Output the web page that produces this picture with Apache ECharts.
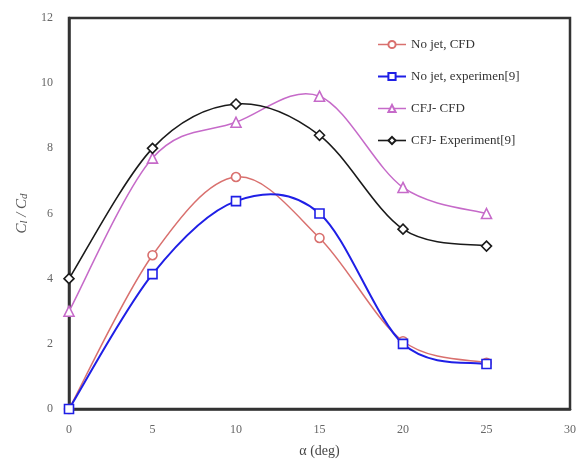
<!DOCTYPE html>
<html>
<head>
<meta charset="utf-8">
<script src="https://cdn.jsdelivr.net/npm/echarts@6/dist/echarts.min.js"></script>
<style>html,body{margin:0;padding:0;background:#fff;}#c{width:579px;height:459px;}</style>
</head>
<body>
<div id="c"></div>
<script>
var alpha = [0, 5, 10, 15, 20, 25];
var noJetCFD = [0, 4.72, 7.12, 5.25, 2.08, 1.42];
var noJetExp = [0, 4.14, 6.38, 6.0, 2.0, 1.38];
var cfjCFD = [3.0, 7.7, 8.8, 9.6, 6.8, 6.0];
var cfjExp = [4.0, 8.0, 9.36, 8.4, 5.52, 5.0];
var xTicks = [0, 5, 10, 15, 20, 25, 30];
var yTicks = [0, 2, 4, 6, 8, 10, 12];
var names = ['No jet, CFD', 'No jet, experimen[9]', 'CFJ- CFD', 'CFJ- Experiment[9]'];

function pairs(ys){ return alpha.map(function(a,i){ return [a, ys[i]]; }); }
var serif = '"Liberation Serif", "DejaVu Serif", serif';

// Excel-like smoothed curve (Catmull-Rom as cubic Bezier) drawn via the axis scales
function curve(name, ys, color, width){
  return {
    name: name, type: 'custom', z: 1, silent: true,
    data: [0],
    renderItem: function(params, api){
      var p = alpha.map(function(a,i){ return api.coord([a, ys[i]]); });
      var path = 'M' + p[0][0] + ' ' + p[0][1];
      for (var i = 0; i < p.length - 1; i++){
        var p0 = p[i > 0 ? i - 1 : i], p1 = p[i], p2 = p[i + 1], p3 = p[i + 2 < p.length ? i + 2 : i + 1];
        var c1 = [p1[0] + (p2[0] - p0[0]) / 6, p1[1] + (p2[1] - p0[1]) / 6];
        var c2 = [p2[0] - (p3[0] - p1[0]) / 6, p2[1] - (p3[1] - p1[1]) / 6];
        path += ' C' + c1[0] + ' ' + c1[1] + ' ' + c2[0] + ' ' + c2[1] + ' ' + p2[0] + ' ' + p2[1];
      }
      return {type: 'path', shape: {pathData: path}, style: {fill: null, stroke: color, lineWidth: width}};
    }
  };
}

function marks(name, ys, color, symbol, size){
  return {
    name: name, type: 'line', data: pairs(ys), z: 3,
    symbol: symbol, symbolSize: size, showSymbol: true,
    lineStyle: {color: color, width: 0, opacity: 0},
    itemStyle: {color: '#fff', borderColor: color, borderWidth: 1.6},
    color: color
  };
}

var colors = ['#d9706e', '#1f1fe6', '#c66ac9', '#1a1a1a'];
var widths = [1.5, 2, 1.5, 1.6];

var chart = echarts.init(document.getElementById('c'));
chart.setOption({
  animation: false,
  backgroundColor: '#fff',
  grid: {left: 69, right: 9, top: 18, bottom: 50, outerBoundsMode: 'none', containLabel: false,
    show: true, borderColor: '#333', borderWidth: 2.5, backgroundColor: 'transparent'},
  legend: {
    orient: 'vertical', left: 372, top: 33, itemGap: 19,
    itemWidth: 28, itemHeight: 9,
    textStyle: {fontFamily: serif, fontSize: 13, color: '#333'},
    data: names.map(function(n, i){
      return {name: n, lineStyle: {color: colors[i], width: widths[i], opacity: 1}};
    })
  },
  xAxis: {
    type: 'value', min: 0, max: 30, interval: 5,
    name: 'α (deg)', nameLocation: 'middle', nameGap: 35,
    nameTextStyle: {fontFamily: serif, fontSize: 14, color: '#444'},
    axisLine: {show: true, lineStyle: {color: '#333', width: 2.5}},
    axisTick: {show: false},
    splitLine: {show: false},
    axisLabel: {fontFamily: serif, fontSize: 12, color: '#666', margin: 15,
      formatter: function(v){ return xTicks.indexOf(v) >= 0 ? String(v) : ''; }}
  },
  yAxis: {
    type: 'value', min: 0, max: 12, interval: 2,
    name: '{i|C}{s|l}{i| / C}{s|d}', nameLocation: 'middle', nameGap: 38, nameRotate: 90,
    nameTextStyle: {color: '#555', rich: {
      i: {fontFamily: serif, fontSize: 15, fontStyle: 'italic', color: '#555'},
      s: {fontFamily: serif, fontSize: 11, fontStyle: 'italic', color: '#555', verticalAlign: 'bottom', padding: [6,0,0,0]}
    }},
    axisLine: {show: true, lineStyle: {color: '#333', width: 2.5}},
    axisTick: {show: false},
    splitLine: {show: false},
    axisLabel: {fontFamily: serif, fontSize: 12, color: '#666', margin: 16,
      formatter: function(v){ return yTicks.indexOf(v) >= 0 ? String(v) : ''; }}
  },
  series: [
    marks(names[0], noJetCFD, colors[0], 'circle', 9),
    marks(names[1], noJetExp, colors[1], 'rect', 9),
    marks(names[2], cfjCFD, colors[2], 'triangle', 10),
    marks(names[3], cfjExp, colors[3], 'diamond', 10),
    curve(names[0], noJetCFD, colors[0], widths[0]),
    curve(names[1], noJetExp, colors[1], widths[1]),
    curve(names[2], cfjCFD, colors[2], widths[2]),
    curve(names[3], cfjExp, colors[3], widths[3])
  ]
});
</script>
</body>
</html>
